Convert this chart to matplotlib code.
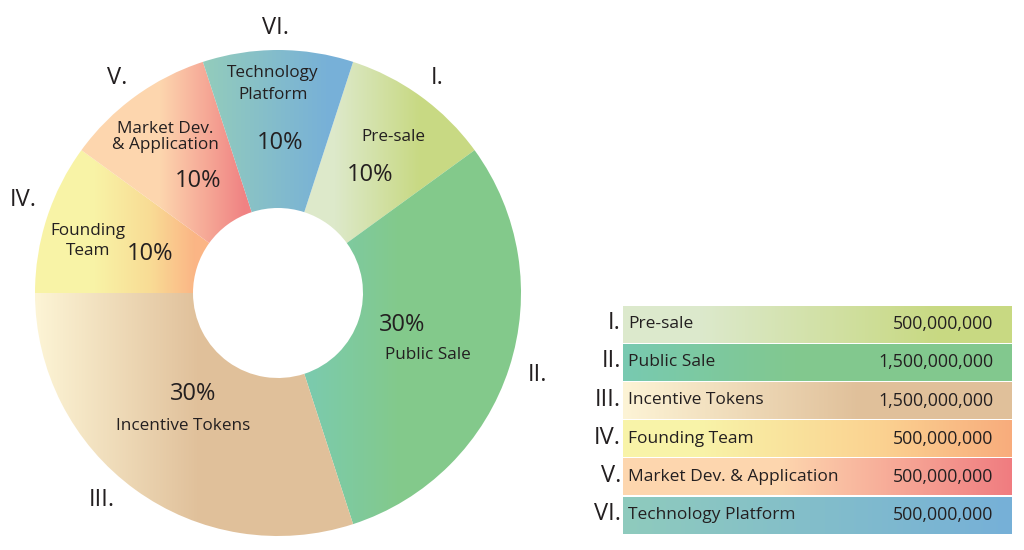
import numpy as np
import matplotlib.pyplot as plt
from matplotlib.colors import to_rgb

plt.rcParams['font.family'] = ['Open Sans', 'DejaVu Sans']

# data
names = ['Pre-sale', 'Public Sale', 'Incentive Tokens', 'Founding Team',
         'Market Dev. & Application', 'Technology Platform']
pie_names = ['Pre-sale', 'Public Sale', 'Incentive Tokens', 'Founding\nTeam',
             'Market Dev.\n& Application', 'Technology\nPlatform']
numerals = ['I.', 'II.', 'III.', 'IV.', 'V.', 'VI.']
tokens = [500000000, 1500000000, 1500000000, 500000000, 500000000, 500000000]

# gradient stops (x pixel, colour) for each wedge
wedge_grad = [
    [(335, '#dde9ca'), (420, '#c8d983')],
    [(305, '#7bcbaf'), (400, '#83c98b')],
    [(35, '#fdf5d6'), (200, '#e0c09a')],
    [(95, '#f8f3a6'), (150, '#f9dc95'), (195, '#fbb585')],
    [(160, '#fdd6ae'), (245, '#f08283')],
    [(205, '#93ccbc'), (330, '#77b0d8')],
]
row_grad = [
    [(700, '#dce9cc'), (940, '#c8d982')],
    [(623, '#78cab1'), (800, '#82c88e')],
    [(623, '#fdf4d6'), (860, '#e0c09a')],
    [(700, '#f8f3a8'), (880, '#fbd291'), (1012, '#f8ac7c')],
    [(780, '#fdd6ae'), (1012, '#f07c80')],
    [(623, '#8fcbbd'), (1012, '#76b0d8')],
]

W, H = 1024, 550
TXT = '#231f20'


def Y(y):
    return H - y


def grad_image(stops):
    xs = np.arange(W) + 0.5
    px = [s[0] for s in stops]
    cols = np.array([to_rgb(s[1]) for s in stops])
    img = np.zeros((1, W, 3))
    for c in range(3):
        img[0, :, c] = np.interp(xs, px, cols[:, c])
    return img


fig = plt.figure(figsize=(W / 100, H / 100), dpi=100)
ax = fig.add_axes([0, 0, 1, 1])

wedges, _ = ax.pie(tokens, startangle=72, counterclock=False,
                   center=(278, Y(293)), radius=243,
                   wedgeprops=dict(width=158, linewidth=0), frame=True)
for w, st in zip(wedges, wedge_grad):
    w.set_facecolor('none')
    im = ax.imshow(grad_image(st), extent=[0, W, 0, H], aspect='auto', zorder=1)
    im.set_clip_path(w)

total = sum(tokens)
pct = ['%d%%' % round(100 * t / total) for t in tokens]

# labels inside the donut
name_pos = [(393, 137), (428, 355), (183, 426), (88, 241), (165, 137), (273, 84)]
name_ls = [1.0, 1.0, 1.0, 1.3, 1.05, 1.45]
pct_pos = [(370, 175), (402, 325), (193, 394), (150, 254), (198, 181), (280, 143)]
num_pos = [(437, 78), (538, 375), (102, 500), (23, 200), (117, 78), (276, 28)]
for i in range(len(tokens)):
    ax.text(name_pos[i][0], Y(name_pos[i][1]), pie_names[i], ha='center', va='center',
            fontsize=12.3, color=TXT, linespacing=name_ls[i], zorder=3)
    ax.text(pct_pos[i][0], Y(pct_pos[i][1]), pct[i], ha='center', va='center',
            fontsize=17, color=TXT, zorder=3)
    ax.text(num_pos[i][0], Y(num_pos[i][1]), numerals[i], ha='center', va='center',
            fontsize=17, color=TXT, zorder=3)

# legend table
row_top = 305
row_h = 38.2
bars = ax.barh([Y(row_top + row_h * i + row_h / 2) for i in range(len(names))],
               [389] * len(names), left=623, height=row_h - 1.2, linewidth=0)
for i, (b, st) in enumerate(zip(bars, row_grad)):
    b.set_facecolor('none')
    im = ax.imshow(grad_image(st), extent=[0, W, 0, H], aspect='auto', zorder=1)
    im.set_clip_path(b)
    yc = Y(row_top + row_h * i + row_h / 2)
    ax.text(628, yc, names[i], ha='left', va='center', fontsize=12.5, color=TXT, zorder=3)
    ax.text(993, yc, '{:,}'.format(tokens[i]), ha='right', va='center',
            fontsize=12.8, color=TXT, zorder=3)
    ax.text(621, yc + 1, numerals[i], ha='right', va='center', fontsize=17,
            color=TXT, zorder=3)

ax.set_xlim(0, W)
ax.set_ylim(0, H)
ax.set_aspect('auto')
ax.axis('off')
fig.savefig('out.png', dpi=100)
